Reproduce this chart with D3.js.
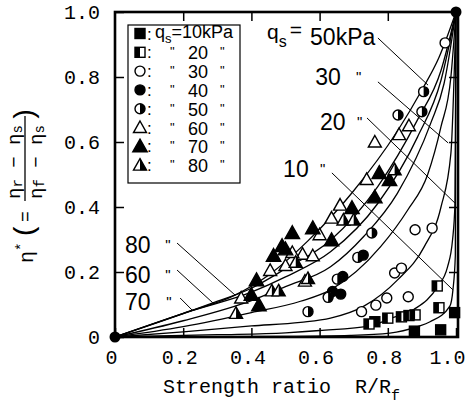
<!DOCTYPE html>
<html>
<head>
<meta charset="utf-8">
<script src="https://cdn.jsdelivr.net/npm/d3@7/dist/d3.min.js"></script>
<style>
  body { margin: 0; background: #fff; }
  text { fill: #000; }
</style>
</head>
<body>
<div id="chart"></div>
<script>
// ---- values ----
var xTicks = [0, 0.2, 0.4, 0.6, 0.8, 1.0];
var yTicks = [0, 0.2, 0.4, 0.6, 0.8, 1.0];
var tickLabels = ["0", "0.2", "0.4", "0.6", "0.8", "1.0"];

var qsValues = [10, 20, 30, 40, 50, 60, 70, 80];
var markerKinds = ["square", "halfsquare", "circle", "dot", "halfcircle", "triangle", "filltriangle", "halftriangle"];

// measured points (R/Rf, eta*)
var pts10 = [[0.762,0.047],[0.878,0.018],[0.955,0.022],[0.996,0.075]];
var pts20 = [[0.745,0.04],[0.80,0.058],[0.84,0.062],[0.862,0.066],[0.88,0.068],[0.945,0.157],[0.95,0.09]];
var pts30 = [[0.723,0.078],[0.765,0.098],[0.797,0.12],[0.86,0.124],[0.82,0.197],[0.84,0.212],[0.88,0.33],[0.93,0.335],[0.968,0.905]];
var pts40 = [[0.728,0.252],[0.668,0.186],[0.662,0.132],[0.638,0.14]];
var pts50 = [[0.905,0.755],[0.9,0.693],[0.83,0.683],[0.753,0.32],[0.712,0.245],[0.652,0.178],[0.625,0.122],[0.566,0.078]];
var pts60 = [[0.37,0.12],[0.455,0.205],[0.5,0.22],[0.557,0.172],[0.55,0.255],[0.58,0.25],[0.6,0.315],[0.635,0.366],[0.66,0.406],[0.738,0.485],[0.762,0.6],[0.833,0.623],[0.862,0.65],[0.52,0.26]];
var pts70 = [[0.4,0.13],[0.415,0.175],[0.422,0.098],[0.465,0.25],[0.49,0.28],[0.52,0.32],[0.58,0.335],[0.635,0.298],[0.695,0.397],[0.762,0.43],[0.775,0.505],[0.805,0.483],[0.5,0.27]];
var pts80 = [[0.355,0.073],[0.46,0.142],[0.48,0.142],[0.566,0.18],[0.53,0.23],[0.67,0.36],[0.7,0.36],[0.82,0.515]];

// fitted curves
var curve10 = [[0,0],[0.5,0.002],[0.69,0.005],[0.806,0.012],[0.887,0.032],[0.924,0.047],[0.982,0.095],[0.991,0.145],[0.998,0.25],[1,1]];
var curve20 = [[0,0],[0.3,0.007],[0.5,0.013],[0.6,0.02],[0.75,0.035],[0.81,0.058],[0.877,0.085],[0.946,0.155],[0.975,0.215],[0.99,0.3],[0.997,0.412],[1,1]];
var curve30 = [[0,0],[0.2,0.016],[0.4,0.034],[0.544,0.045],[0.632,0.058],[0.73,0.095],[0.828,0.175],[0.907,0.278],[0.956,0.4],[0.985,0.565],[1,1]];
var curve40 = [[0,0],[0.2,0.032],[0.4,0.075],[0.544,0.11],[0.632,0.145],[0.779,0.278],[0.858,0.39],[0.917,0.5],[0.956,0.647],[0.985,0.8],[1,1]];
var curve50 = [[0,0],[0.2,0.05],[0.4,0.112],[0.5,0.155],[0.632,0.216],[0.73,0.31],[0.828,0.442],[0.926,0.658],[0.965,0.78],[1,1]];
var curve60 = [[0,0],[0.2,0.072],[0.287,0.105],[0.4,0.15],[0.5,0.21],[0.632,0.298],[0.77,0.462],[0.887,0.668],[0.956,0.82],[1,1]];
var curve70 = [[0,0],[0.226,0.081],[0.4,0.138],[0.5,0.185],[0.632,0.262],[0.77,0.41],[0.887,0.615],[0.956,0.79],[1,1]];
var curve80 = [[0,0],[0.2,0.073],[0.352,0.129],[0.45,0.19],[0.565,0.295],[0.7,0.45],[0.826,0.63],[0.9,0.76],[0.95,0.86],[1,1]];
var endPoints = [[0,0],[1,1]];

// curve labels with leader lines: [text, labelX, labelY, quoteX, fromX, fromY, toX, toY]
var curveLabels = [
  ["30", 0.587, 0.775, 0.707, 0.771, 0.785, 0.977, 0.597],
  ["20", 0.601, 0.637, 0.710, 0.739, 0.674, 0.997, 0.412],
  ["10", 0.493, 0.492, 0.601, 0.636, 0.505, 0.991, 0.145],
  ["80", 0.029, 0.258, 0.147, 0.182, 0.289, 0.352, 0.129],
  ["60", 0.029, 0.166, 0.147, 0.182, 0.206, 0.287, 0.105],
  ["70", 0.029, 0.083, 0.150, 0.191, 0.120, 0.226, 0.083]
];
var leader50 = [0.771, 0.92, 0.918, 0.775];

var allPts = [pts10, pts20, pts30, pts40, pts50, pts60, pts70, pts80];
var allCurves = [curve10, curve20, curve30, curve40, curve50, curve60, curve70, curve80];

// ---- drawing ----
var W = 472, H = 404;
var svg = d3.select("#chart").append("svg").attr("width", W).attr("height", H);

var x = d3.scaleLinear().domain([0, 1]).range([115, 456]);
var y = d3.scaleLinear().domain([0, 1]).range([337, 12]);

var mono = "'Liberation Mono', 'DejaVu Sans Mono', monospace";
var sans = "'Liberation Sans', Arial, sans-serif";

// curves
var line = d3.line().x(function(d) { return x(d[0]); }).y(function(d) { return y(d[1]); })
  .curve(d3.curveMonotoneX);
svg.append("g").selectAll("path").data(allCurves).enter().append("path")
  .attr("d", line).attr("fill", "none").attr("stroke", "#000").attr("stroke-width", 1.3);

// leader lines
svg.append("g").selectAll("line").data(curveLabels).enter().append("line")
  .attr("x1", function(d) { return x(d[4]); }).attr("y1", function(d) { return y(d[5]); })
  .attr("x2", function(d) { return x(d[6]); }).attr("y2", function(d) { return y(d[7]); })
  .attr("stroke", "#000").attr("stroke-width", 1);
svg.append("line").attr("x1", x(leader50[0])).attr("y1", y(leader50[1]))
  .attr("x2", x(leader50[2])).attr("y2", y(leader50[3])).attr("stroke", "#000").attr("stroke-width", 1);

// markers
function marker(g, kind, cx, cy) {
  var r = 5, t = 6.5, sw = 1.4;
  if (kind == "square" || kind == "halfsquare") {
    g.append("rect").attr("x", cx - r).attr("y", cy - r).attr("width", 2 * r).attr("height", 2 * r)
      .attr("fill", kind == "square" ? "#000" : "#fff").attr("stroke", "#000").attr("stroke-width", sw);
    if (kind == "halfsquare")
      g.append("rect").attr("x", cx - r).attr("y", cy - r).attr("width", r).attr("height", 2 * r).attr("fill", "#000");
  } else if (kind == "circle" || kind == "dot" || kind == "halfcircle") {
    g.append("circle").attr("cx", cx).attr("cy", cy).attr("r", r)
      .attr("fill", kind == "dot" ? "#000" : "#fff").attr("stroke", "#000").attr("stroke-width", sw);
    if (kind == "halfcircle")
      g.append("path").attr("d", "M" + cx + "," + (cy - r) + "A" + r + "," + r + " 0 0 1 " + cx + "," + (cy + r) + "Z")
        .attr("fill", "#000");
  } else {
    var s = kind == "filltriangle" ? 7.2 : t;
    var tri = [[cx, cy - s], [cx + s, cy + s * 0.78], [cx - s, cy + s * 0.78]];
    g.append("path").attr("d", "M" + tri.join("L") + "Z")
      .attr("fill", kind == "filltriangle" ? "#000" : "#fff").attr("stroke", "#000").attr("stroke-width", sw)
      .attr("stroke-linejoin", "miter");
    if (kind == "halftriangle")
      g.append("path").attr("d", "M" + [[cx, cy - s], [cx + s, cy + s * 0.78], [cx, cy + s * 0.78]].join("L") + "Z")
        .attr("fill", "#000");
  }
}
var mg = svg.append("g");
allPts.forEach(function(series, i) {
  series.forEach(function(p) { marker(mg, markerKinds[i], x(p[0]), y(p[1])); });
});

// frame
svg.append("rect").attr("x", x(0)).attr("y", y(1)).attr("width", x(1) - x(0) + 2).attr("height", y(0) - y(1))
  .attr("fill", "none").attr("stroke", "#000").attr("stroke-width", 2.6);

// axes with inward ticks
var fmt = function(d, i) { return tickLabels[i]; };
var xAxis = svg.append("g").attr("transform", "translate(0," + y(0) + ")")
  .call(d3.axisBottom(x).tickValues(xTicks).tickFormat(fmt).tickSize(-9).tickPadding(13));
var yAxis = svg.append("g").attr("transform", "translate(" + x(0) + ",0)")
  .call(d3.axisLeft(y).tickValues(yTicks).tickFormat(fmt).tickSize(-9).tickPadding(15));
svg.append("g").attr("transform", "translate(0," + y(1) + ")")
  .call(d3.axisTop(x).tickValues(xTicks.slice(1, 5)).tickFormat("").tickSize(-9));
svg.append("g").attr("transform", "translate(" + (x(1) + 2) + ",0)")
  .call(d3.axisRight(y).tickValues(yTicks.slice(1, 5)).tickFormat("").tickSize(-9));
svg.selectAll(".domain").remove();
svg.selectAll(".tick line").attr("stroke", "#000").attr("stroke-width", 1.5);
svg.selectAll(".tick text").attr("font-family", mono).attr("font-size", 20).attr("fill", "#000");
xAxis.selectAll(".tick text").attr("dx", function(d, i) { return i == xTicks.length - 1 ? -9 : -4; });

// end dots
svg.append("g").selectAll("circle").data(endPoints).enter().append("circle")
  .attr("cx", function(d) { return x(d[0]); }).attr("cy", function(d) { return y(d[1]); })
  .attr("r", 5.5).attr("fill", "#000");

// x title
var xt = svg.append("text").attr("x", 163).attr("y", 393).attr("font-family", mono).attr("font-size", 20)
  .style("white-space", "pre");
xt.append("tspan").text("Strength ratio  R/R");
xt.append("tspan").attr("font-size", 15).attr("dy", 7).text("f");

// y title (rotated, with fraction)
var yt = svg.append("g").attr("transform", "rotate(-90)").attr("font-family", mono);
var e1 = yt.append("text").attr("x", -263).attr("y", 33).attr("font-size", 20);
e1.append("tspan").text("η");
e1.append("tspan").attr("font-size", 14).attr("dy", -7).text("*");
yt.append("text").attr("x", -239).attr("y", 33).attr("font-size", 28).text("(");
yt.append("text").attr("x", -222).attr("y", 31).attr("font-size", 18).text("=");
function frac(ypos, sub) {
  var t = yt.append("text").attr("x", -199).attr("y", ypos).attr("font-size", 19).style("white-space", "pre");
  t.append("tspan").text("η");
  t.append("tspan").attr("font-size", 14).attr("dy", 2).text(sub);
  t.append("tspan").attr("dy", -2).text(" − η");
  t.append("tspan").attr("font-size", 14).attr("dy", 2).text("s");
}
frac(20, "r");
frac(42, "f");
yt.append("line").attr("x1", -201).attr("x2", -116).attr("y1", 25).attr("y2", 25)
  .attr("stroke", "#000").attr("stroke-width", 1.3);
yt.append("text").attr("x", -123).attr("y", 33).attr("font-size", 28).text(")");

// curve labels
var lab = svg.append("g").attr("font-family", sans);
curveLabels.forEach(function(d) {
  lab.append("text").attr("x", x(d[1])).attr("y", y(d[2])).attr("font-size", 23).text(d[0]);
  lab.append("text").attr("x", x(d[3])).attr("y", y(d[2]) - 3).attr("font-size", 15).text("\"");
});
var qs = lab.append("text").attr("x", x(0.446)).attr("y", y(0.917)).attr("font-size", 21);
qs.append("tspan").text("q");
qs.append("tspan").attr("font-size", 16).attr("dy", 8).text("s");
qs.append("tspan").attr("dy", -10).attr("dx", 3).text("=");
lab.append("text").attr("x", x(0.572)).attr("y", y(0.898)).attr("font-size", 23).text("50kPa");

// legend
var lg = svg.append("g");
lg.append("rect").attr("x", 128).attr("y", 25).attr("width", 112).attr("height", 158)
  .attr("fill", "#fff").attr("stroke", "#000").attr("stroke-width", 1.2);
qsValues.forEach(function(q, i) {
  var cy = 33.5 + i * 18.8;
  marker(lg, markerKinds[i], 140, cy);
  lg.append("text").attr("x", 147).attr("y", cy + 6).attr("font-family", sans).attr("font-size", 17).text(":");
  if (i == 0) {
    var t = lg.append("text").attr("x", 155).attr("y", cy + 4).attr("font-family", sans).attr("font-size", 18);
    t.append("tspan").text("q");
    t.append("tspan").attr("font-size", 13).attr("dy", 5).text("s");
    t.append("tspan").attr("dy", -5).text("=" + q + "kPa");
  } else {
    lg.append("text").attr("x", 170).attr("y", cy + 4).attr("font-family", sans).attr("font-size", 13).text("\"");
    lg.append("text").attr("x", 188).attr("y", cy + 7).attr("font-family", sans).attr("font-size", 18).text(q);
    lg.append("text").attr("x", 220).attr("y", cy + 4).attr("font-family", sans).attr("font-size", 13).text("\"");
  }
});
</script>
</body>
</html>
